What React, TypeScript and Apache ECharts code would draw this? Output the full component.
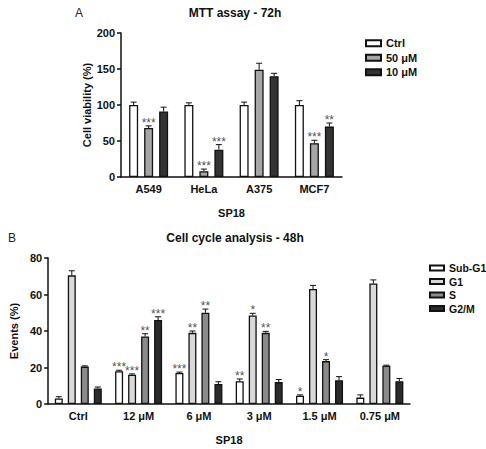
import React, { useEffect, useRef } from "react";
import * as echarts from "echarts";

// Panel A: MTT assay
const mttCells = ["A549", "HeLa", "A375", "MCF7"];
const mttCtrl = [100, 100, 100, 100];
const mttCtrlErr = [4, 3, 4, 6];
const mtt50 = [68, 8, 149, 47];
const mtt50Err = [3, 3, 9, 4];
const mtt10 = [91, 38, 140, 70];
const mtt10Err = [6, 7, 4, 5];
const mtt50Stars = ["***", "***", "", "***"];
const mtt10Stars = ["", "***", "", "**"];
const mttTicks = [0, 50, 100, 150, 200];

// Panel B: cell cycle
const doses = ["Ctrl", "12 \u03bcM", "6 \u03bcM", "3 \u03bcM", "1.5 \u03bcM", "0.75 \u03bcM"];
const subG1 = [3, 18, 17, 12.5, 4.5, 3.5];
const subG1Err = [1, 0.5, 0.5, 1.2, 0.5, 1.5];
const g1 = [70.5, 16, 39, 48.5, 63, 66];
const g1Err = [2.5, 0.5, 1, 1.2, 2, 2];
const sPhase = [20.5, 37, 50, 39, 23.5, 21];
const sPhaseErr = [0.4, 1.5, 2, 0.8, 0.8, 0.3];
const g2m = [8.5, 46, 11, 12, 13, 12.5];
const g2mErr = [0.8, 1.8, 1.2, 1.4, 2, 1.5];
const subG1Stars = ["", "***", "***", "**", "*", ""];
const g1Stars = ["", "***", "**", "*", "", ""];
const sPhaseStars = ["", "**", "**", "**", "*", ""];
const g2mStars = ["", "***", "", "", "", ""];

const FONT = "Liberation Sans, Arial, sans-serif";
const INK = "#222222";

type BarDef = {
  name: string;
  values: number[];
  errs: number[];
  stars: string[];
  color: string;
};

// Upper error bar (stem + cap) drawn beside each bar
function errorSeries(def: BarDef, axis: number, offset: number, cap: number) {
  return {
    type: "custom",
    xAxisIndex: axis,
    yAxisIndex: axis,
    z: 5,
    silent: true,
    itemStyle: { color: INK },
    data: def.values.map((v, i) => [i, v, def.errs[i]]),
    renderItem: (_params: any, api: any) => {
      const i = api.value(0);
      const v = api.value(1);
      const e = api.value(2);
      const base = api.coord([i, v]);
      const top = api.coord([i, v + e]);
      const x = base[0] + offset;
      return {
        type: "group",
        children: [
          {
            type: "line",
            shape: { x1: x, y1: base[1], x2: x, y2: top[1] },
            style: { stroke: "#111", lineWidth: 1 },
          },
          {
            type: "line",
            shape: { x1: x - cap, y1: top[1], x2: x + cap, y2: top[1] },
            style: { stroke: "#111", lineWidth: 1 },
          },
        ],
      };
    },
  };
}

// Significance stars sitting on top of each error bar
function starSeries(def: BarDef, axis: number, offset: number) {
  return {
    type: "scatter",
    xAxisIndex: axis,
    yAxisIndex: axis,
    z: 6,
    silent: true,
    symbolSize: 0,
    itemStyle: { color: INK },
    data: def.values.map((v, i) => [i, v + def.errs[i]]),
    label: {
      show: true,
      position: "top",
      distance: 0,
      offset: [offset, 3],
      color: INK,
      fontSize: 12,
      fontFamily: FONT,
      formatter: (p: any) => def.stars[p.dataIndex] || "",
    },
  };
}

function barSeries(def: BarDef, axis: number, width: number, gap: string) {
  return {
    type: "bar",
    name: def.name,
    xAxisIndex: axis,
    yAxisIndex: axis,
    data: def.values,
    barWidth: width,
    barGap: gap,
    itemStyle: { color: def.color, borderColor: "#111", borderWidth: 1.3 },
  };
}

export default function App() {
  const ref = useRef<HTMLDivElement>(null);

  useEffect(() => {
    if (!ref.current) return;
    const chart = echarts.init(ref.current, null, { renderer: "svg" });

    const mttDefs: BarDef[] = [
      { name: "Ctrl", values: mttCtrl, errs: mttCtrlErr, stars: ["", "", "", ""], color: "#ffffff" },
      { name: "50 \u03bcM", values: mtt50, errs: mtt50Err, stars: mtt50Stars, color: "#a6a6a6" },
      { name: "10 \u03bcM", values: mtt10, errs: mtt10Err, stars: mtt10Stars, color: "#333333" },
    ];
    const cycleDefs: BarDef[] = [
      { name: "Sub-G1", values: subG1, errs: subG1Err, stars: subG1Stars, color: "#ffffff" },
      { name: "G1", values: g1, errs: g1Err, stars: g1Stars, color: "#d9d9d9" },
      { name: "S", values: sPhase, errs: sPhaseErr, stars: sPhaseStars, color: "#8a8a8a" },
      { name: "G2/M", values: g2m, errs: g2mErr, stars: g2mStars, color: "#2b2b2b" },
    ];

    const wA = 9, gapA = 6;
    const wB = 8, gapB = 5;
    const stepA = wA + gapA;
    const stepB = wB + gapB;

    const axisLabel = { color: "#111", fontFamily: FONT, fontWeight: "bold", fontSize: 11 };
    const axisLine = { lineStyle: { color: "#111", width: 1.5 } };
    const axisTick = { lineStyle: { color: "#111", width: 1.5 }, length: 4 };
    const nameStyle = { fontFamily: FONT, fontWeight: "bold", fontSize: 11, color: "#111" };

    const series: any[] = [];
    mttDefs.forEach((d) => {
      series.push(barSeries(d, 0, wA, (gapA / wA) * 100 + "%"));
    });
    mttDefs.forEach((d, k) => {
      const off = (k - (mttDefs.length - 1) / 2) * stepA;
      series.push(errorSeries(d, 0, off, 3));
      series.push(starSeries(d, 0, off));
    });
    cycleDefs.forEach((d) => {
      series.push(barSeries(d, 1, wB, (gapB / wB) * 100 + "%"));
    });
    cycleDefs.forEach((d, k) => {
      const off = (k - (cycleDefs.length - 1) / 2) * stepB;
      series.push(errorSeries(d, 1, off, 3));
      series.push(starSeries(d, 1, off));
    });

    chart.setOption({
      animation: false,
      backgroundColor: "#ffffff",
      textStyle: { fontFamily: FONT },
      title: [
        { text: "A", left: 70, top: 2, textStyle: { fontSize: 12, fontWeight: "normal", color: INK, fontFamily: FONT } },
        { text: "MTT assay - 72h", left: 230, top: 2, textAlign: "center", textStyle: { fontSize: 12, fontWeight: "bold", color: "#111", fontFamily: FONT } },
        { text: "B", left: 3, top: 227, textStyle: { fontSize: 12, fontWeight: "normal", color: INK, fontFamily: FONT } },
        { text: "Cell cycle analysis - 48h", left: 230, top: 227, textAlign: "center", textStyle: { fontSize: 12, fontWeight: "bold", color: "#111", fontFamily: FONT } },
      ],
      legend: [
        {
          data: mttDefs.map((d) => d.name),
          orient: "vertical",
          left: 360,
          top: 32,
          itemWidth: 15,
          itemHeight: 6,
          itemGap: 2,
          icon: "rect",
          textStyle: { fontSize: 11, fontWeight: "bold", color: "#111", fontFamily: FONT, lineHeight: 12.5 },
          selectedMode: false,
        },
        {
          data: cycleDefs.map((d) => d.name),
          orient: "vertical",
          left: 424,
          top: 257,
          itemWidth: 14,
          itemHeight: 5,
          itemGap: 1.5,
          icon: "rect",
          textStyle: { fontSize: 10.5, fontWeight: "bold", color: "#111", fontFamily: FONT, lineHeight: 12 },
          selectedMode: false,
        },
      ],
      grid: [
        { left: 121, top: 33, width: 221, height: 144 },
        { left: 41, top: 258, width: 369, height: 146 },
      ],
      xAxis: [
        {
          type: "category",
          gridIndex: 0,
          data: mttCells,
          axisLine,
          axisTick: { ...axisTick, alignWithLabel: true },
          axisLabel: { ...axisLabel, margin: 6 },
          name: "SP18",
          nameLocation: "middle",
          nameGap: 30,
          nameTextStyle: nameStyle,
        },
        {
          type: "category",
          gridIndex: 1,
          data: doses,
          axisLine,
          axisTick: { ...axisTick, alignWithLabel: true },
          axisLabel: { ...axisLabel, margin: 6 },
          name: "SP18",
          nameLocation: "middle",
          nameGap: 30,
          nameTextStyle: nameStyle,
        },
      ],
      yAxis: [
        {
          type: "value",
          gridIndex: 0,
          min: mttTicks[0],
          max: mttTicks[mttTicks.length - 1],
          interval: 50,
          axisLine: { show: true, ...axisLine },
          axisTick: { show: true, ...axisTick },
          axisLabel: { ...axisLabel, margin: 6 },
          splitLine: { show: false },
          name: "Cell viability (%)",
          nameLocation: "middle",
          nameGap: 28,
          nameTextStyle: nameStyle,
        },
        {
          type: "value",
          gridIndex: 1,
          min: 0,
          max: 80,
          interval: 20,
          axisLine: { show: true, ...axisLine },
          axisTick: { show: true, ...axisTick },
          axisLabel: { ...axisLabel, margin: 6 },
          splitLine: { show: false },
          name: "Events (%)",
          nameLocation: "middle",
          nameGap: 24,
          nameTextStyle: nameStyle,
        },
      ],
      series,
    });

    return () => chart.dispose();
  }, []);

  return (
    <div
      ref={ref}
      style={{ position: "fixed", left: 0, top: 0, width: 486, height: 449, background: "#fff" }}
    />
  );
}
